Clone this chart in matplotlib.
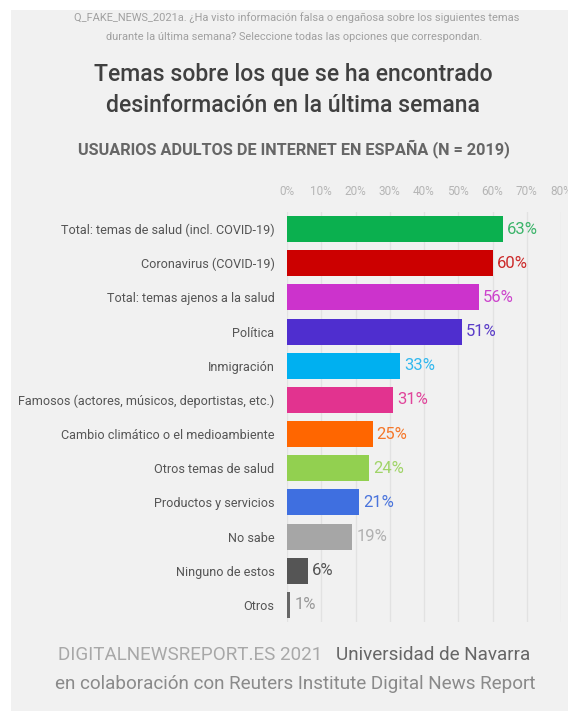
import matplotlib
matplotlib.use('Agg')
import matplotlib.pyplot as plt
from matplotlib.patches import Rectangle

plt.rcParams['font.family'] = ['Roboto', 'DejaVu Sans']

# Data
categories = ['Total: temas de salud (incl. COVID-19)', 'Coronavirus (COVID-19)',
              'Total: temas ajenos a la salud', 'Política', 'Inmigración',
              'Famosos (actores, músicos, deportistas, etc.)',
              'Cambio climático o el medioambiente', 'Otros temas de salud',
              'Productos y servicios', 'No sabe', 'Ninguno de estos', 'Otros']
values = [63, 60, 56, 51, 33, 31, 25, 24, 21, 19, 6, 1]
bar_colors = ['#0bb04f', '#cc0000', '#cc33cc', '#4f2ecf', '#00b0f0', '#e2338f',
              '#ff6600', '#92d050', '#3f6fe0', '#a6a6a6', '#555555', '#666666']
label_colors = ['#3cb46a', '#cc2a2a', '#cc44cc', '#5a3cc8', '#33b8ee', '#e0449a',
                '#f5772a', '#a0d468', '#4a74dc', '#b0b0b0', '#555555', '#999999']
ticks = [0, 10, 20, 30, 40, 50, 60, 70, 80]

W, H = 568, 711
fig = plt.figure(figsize=(W / 100, H / 100), dpi=100)
fig.patch.set_facecolor('white')

# light grey panel
fig.patches.append(Rectangle((11 / W, 0), 1 - 11 / W, 1 - 10 / H,
                             transform=fig.transFigure, facecolor='#f1f1f1',
                             edgecolor='none', zorder=-10))

ax = fig.add_axes([287 / W, (H - 622) / H, (561 - 287) / W, 410 / H])
ax.set_facecolor('none')

y = list(range(len(categories)))
ax.barh(y, values, height=0.76, color=bar_colors, zorder=3)
for yi, v, c in zip(y, values, label_colors):
    ax.text(v + 1.2, yi, f'{v}%', va='center', ha='left', fontsize=12,
            color=c, zorder=4)

ax.set_xlim(0, 80)
ax.set_ylim(len(categories) - 0.5, -0.5)
ax.set_xticks(ticks)
ax.set_xticklabels([f'{t}%' for t in ticks], fontsize=8.5, color='#b5b5b5')
ax.xaxis.tick_top()
ax.tick_params(axis='x', length=0, pad=10)
ax.set_yticks(y)
ax.set_yticklabels(categories, fontsize=9.1, color='#555555')
ax.tick_params(axis='y', length=0, pad=9)
ax.grid(axis='x', color='#e2e2e2', linewidth=1, zorder=0)
for s in ax.spines.values():
    s.set_visible(False)

# titles
fig.text(297 / W, 1 - 18 / H, 'Q_FAKE_NEWS_2021a. ¿Ha visto información falsa o engañosa sobre los siguientes temas',
         ha='center', va='center', fontsize=7.9, color='#a0a0a0')
fig.text(294 / W, 1 - 37 / H, 'durante la última semana? Seleccione todas las opciones que correspondan.',
         ha='center', va='center', fontsize=7.9, color='#a0a0a0')
fig.text(293 / W, 1 - 75 / H, 'Temas sobre los que se ha encontrado', ha='center', va='center',
         fontsize=16.6, fontweight='medium', color='#404040')
fig.text(293 / W, 1 - 105 / H, 'desinformación en la última semana', ha='center', va='center',
         fontsize=16.6, fontweight='medium', color='#404040')
fig.text(294 / W, 1 - 149 / H, 'USUARIOS ADULTOS DE INTERNET EN ESPAÑA (N = 2019)', ha='center',
         va='center', fontsize=11.7, fontweight='bold', color='#666666')

# footer
fig.text(322 / W, 1 - 655 / H, 'DIGITALNEWSREPORT.ES 2021', ha='right', va='center',
         fontsize=13.6, color='#a8a8a8')
fig.text(336 / W, 1 - 655 / H, 'Universidad de Navarra', ha='left', va='center',
         fontsize=13.6, color='#666666')
fig.text(295 / W, 1 - 684 / H, 'en colaboración con Reuters Institute Digital News Report',
         ha='center', va='center', fontsize=13.6, color='#8a8a8a')

fig.savefig('out.png', dpi=100, facecolor=fig.get_facecolor())
